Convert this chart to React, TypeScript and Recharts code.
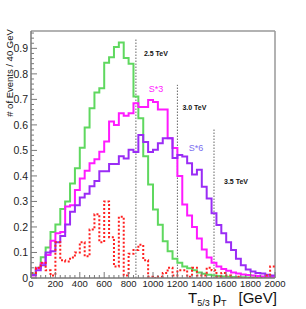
import {
  ComposedChart,
  Line,
  XAxis,
  YAxis,
  ReferenceLine,
  ReferenceDot,
  Label
} from "recharts";

// lower edges of the 40 GeV bins
const binEdges = [
  0, 40, 80, 120, 160, 200, 240, 280, 320, 360,
  400, 440, 480, 520, 560, 600, 640, 680, 720, 760,
  800, 840, 880, 920, 960, 1000, 1040, 1080, 1120, 1160,
  1200, 1240, 1280, 1320, 1360, 1400, 1440, 1480, 1520, 1560,
  1600, 1640, 1680, 1720, 1760, 1800, 1840, 1880, 1920, 1960
];
const xMax = 2000;
const yMax = 0.968;

// 2.5 TeV signal (green)
const sig25 = [
  0.015, 0.04, 0.081, 0.12, 0.18, 0.21, 0.27, 0.3, 0.37, 0.43,
  0.51, 0.59, 0.665, 0.727, 0.744, 0.844, 0.865, 0.905, 0.923, 0.862,
  0.84, 0.711, 0.626, 0.477, 0.366, 0.268, 0.209, 0.144, 0.105, 0.075,
  0.06, 0.045, 0.038, 0.03, 0.022, 0.017, 0.013, 0.01, 0.008, 0.006,
  0.005, 0.004, 0.003, 0.003, 0.002, 0.002, 0.002, 0.001, 0.001, 0.001
];
// 3.0 TeV signal * 3 (magenta)
const sig30 = [
  0.01, 0.038, 0.058, 0.09, 0.146, 0.175, 0.18, 0.28, 0.285, 0.345,
  0.39, 0.42, 0.45, 0.465, 0.495, 0.535, 0.613, 0.6, 0.646, 0.636,
  0.646, 0.685, 0.67, 0.67, 0.698, 0.69, 0.66, 0.66, 0.548, 0.509,
  0.4, 0.288, 0.245, 0.2, 0.155, 0.112, 0.08, 0.06, 0.045, 0.035,
  0.028, 0.022, 0.018, 0.014, 0.012, 0.01, 0.008, 0.006, 0.005, 0.004
];
// 3.5 TeV signal * 6 (purple)
const sig35 = [
  0.012, 0.03, 0.05, 0.1, 0.105, 0.14, 0.165, 0.21, 0.26, 0.285,
  0.315, 0.33, 0.36, 0.38, 0.418, 0.418, 0.447, 0.447, 0.477, 0.468,
  0.503, 0.494, 0.56, 0.533, 0.494, 0.503, 0.528, 0.548, 0.548, 0.47,
  0.482, 0.476, 0.45, 0.406, 0.424, 0.358, 0.312, 0.254, 0.208, 0.175,
  0.14, 0.11, 0.075, 0.05, 0.033, 0.025, 0.02, 0.018, 0.013, 0.01
];
// background (red dotted)
const bkg = [
  0.02, 0.04, 0.06, 0.03, 0.01, 0.14, 0.07, 0.065, 0.08, 0.1,
  0.14, 0.085, 0.19, 0.25, 0.14, 0.3, 0.16, 0.045, 0.24, 0.01,
  0.095, 0.11, 0.13, 0.07, 0.005, 0, 0.005, 0.02, 0.04, 0.01,
  0.03, 0.03, 0.005, 0.04, 0.01, 0.01, 0.04, 0.03, 0.005, 0.02,
  0.01, 0, 0.005, 0, 0, 0, 0, 0, 0.01, 0.045
];

// mass-cut markers
const cutX = [860, 1200, 1500];
const cutTop = [0.94, 0.757, 0.584];
const cutText = ["2.5 TeV", "3.0 TeV", "3.5 TeV"];
const cutTextY = [0.878, 0.667, 0.38];
const cutTextOffset = [8, 5, 10];

const xTicks = binEdges.concat([xMax]);
const yTicks = Array.from({ length: 49 }, (_, i) => Math.round(i * 2) / 100);

const rows = binEdges
  .map((x, i) => ({ x, sig25: sig25[i], sig30: sig30[i], sig35: sig35[i], bkg: bkg[i] }))
  .concat([{ x: xMax, sig25: sig25[49], sig30: sig30[49], sig35: sig35[49], bkg: bkg[49] }]);

const FONT = "'Liberation Sans', Arial, Helvetica, sans-serif";
const PLOT_L = 31;
const PLOT_B = 278;
const AXIS = "#7a7a7a";

const YTick = ({ y, payload }: any) => {
  const v = payload.value;
  const major = Math.abs(v * 10 - Math.round(v * 10)) < 1e-6;
  return (
    <g>
      <line x1={PLOT_L} x2={PLOT_L + (major ? 6 : 3)} y1={y} y2={y} stroke={AXIS} />
      {major && (
        <text x={28} y={y} textAnchor="end" dominantBaseline="central" fontSize={10.5} fontFamily={FONT} fill="#222">
          {v === 0 ? "0" : v.toFixed(1)}
        </text>
      )}
    </g>
  );
};

const XTick = ({ x, payload }: any) => {
  const v = payload.value;
  const major = v % 200 === 0;
  return (
    <g>
      <line x1={x} x2={x} y1={PLOT_B} y2={PLOT_B - (major ? 6 : 3)} stroke={AXIS} />
      {major && (
        <text x={x} y={PLOT_B + 5} textAnchor="middle" dominantBaseline="central" fontSize={9.5} fontFamily={FONT} fill="#222">
          {v}
        </text>
      )}
    </g>
  );
};

export default function App() {
  return (
    <div style={{ position: "absolute", left: 0, top: 0, width: 306, height: 309, background: "#fff" }}>
      <ComposedChart
        width={306}
        height={309}
        data={rows}
        margin={{ top: 31, right: 31, bottom: 0, left: 0 }}
      >
        <XAxis
          dataKey="x"
          type="number"
          domain={[0, xMax]}
          ticks={xTicks}
          interval={0}
          height={31}
          tickLine={false}
          tick={<XTick />}
          axisLine={{ stroke: AXIS, strokeWidth: 1.5 }}
        />
        <YAxis
          type="number"
          domain={[0, yMax]}
          allowDataOverflow
          ticks={yTicks}
          interval={0}
          width={31}
          tickLine={false}
          tick={<YTick />}
          axisLine={{ stroke: AXIS, strokeWidth: 1.5 }}
        />
        <ReferenceLine y={yMax} stroke="#999" strokeWidth={1.5} />
        <ReferenceLine x={xMax} stroke="#999" strokeWidth={1.5} />
        {cutX.map((cx, i) => (
          <ReferenceLine
            key={"cut" + i}
            segment={[{ x: cx, y: 0 }, { x: cx, y: cutTop[i] }]}
            stroke="#666"
            strokeDasharray="1.5 1.5"
          />
        ))}
        {cutX.map((cx, i) => (
          <ReferenceDot key={"lab" + i} x={cx} y={cutTextY[i]} r={0} stroke="none" fill="none">
            <Label
              value={cutText[i]}
              position="right"
              offset={cutTextOffset[i]}
              fontSize={7}
              fontWeight="bold"
              fontFamily={FONT}
              fill="#111"
            />
          </ReferenceDot>
        ))}
        <ReferenceDot x={1025} y={0.741} r={0} stroke="none" fill="none">
          <Label value="S*3" position="center" fontSize={9} fontFamily={FONT} fill="#ff22ff" />
        </ReferenceDot>
        <ReferenceDot x={1352} y={0.51} r={0} stroke="none" fill="none">
          <Label value="S*6" position="center" fontSize={9} fontFamily={FONT} fill="#7a6cf0" />
        </ReferenceDot>
        <Line type="stepAfter" dataKey="sig25" stroke="#5fd85f" strokeWidth={2} dot={false} isAnimationActive={false} />
        <Line type="stepAfter" dataKey="sig30" stroke="#ff1aff" strokeWidth={2} dot={false} isAnimationActive={false} />
        <Line type="stepAfter" dataKey="sig35" stroke="#9a2cf5" strokeWidth={2} dot={false} isAnimationActive={false} />
        <Line type="stepAfter" dataKey="bkg" stroke="#ff2020" strokeWidth={2} strokeDasharray="2 2" dot={false} isAnimationActive={false} />
      </ComposedChart>
      <svg
        width={306}
        height={309}
        style={{ position: "absolute", left: 0, top: 0, pointerEvents: "none" }}
      >
        <text
          transform="translate(13,73) rotate(-90)"
          textAnchor="middle"
          fontSize={9.5}
          fontFamily={FONT}
          fill="#111"
        >
          # of Events / 40 GeV
        </text>
        <text x={188} y={303} fontSize={15} fontFamily={FONT} fill="#111">
          <tspan>T</tspan>
          <tspan fontSize={9} dy={3}>5/3</tspan>
          <tspan dy={-3} dx={3}>p</tspan>
          <tspan fontSize={9} dy={3}>T</tspan>
          <tspan dy={-3} dx={12}>[GeV]</tspan>
        </text>
      </svg>
    </div>
  );
}
